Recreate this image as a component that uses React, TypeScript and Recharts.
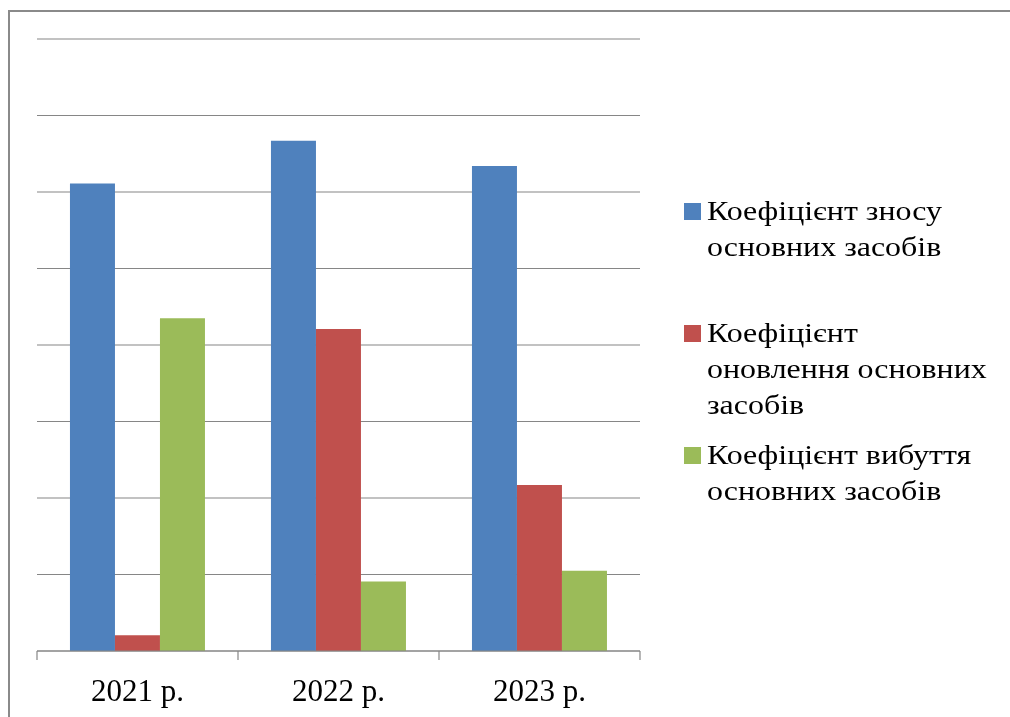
import { BarChart, Bar, XAxis, YAxis, CartesianGrid } from "recharts";

const categories = ["2021 р.", "2022 р.", "2023 р."];
const wearValues = [0.611, 0.667, 0.634];
const renewalValues = [0.0205, 0.421, 0.217];
const disposalValues = [0.435, 0.091, 0.105];
const yTicks = [0, 0.1, 0.2, 0.3, 0.4, 0.5, 0.6, 0.7, 0.8];

const series = [
  { key: "wear", name: "Коефіцієнт зносу основних засобів", color: "#4F81BD" },
  { key: "renewal", name: "Коефіцієнт оновлення основних засобів", color: "#C0504D" },
  { key: "disposal", name: "Коефіцієнт вибуття основних засобів", color: "#9BBB59" },
];

// legend wraps exactly like the original
const legendLines = [
  ["Коефіцієнт зносу", "основних засобів"],
  ["Коефіцієнт", "оновлення основних", "засобів"],
  ["Коефіцієнт вибуття", "основних засобів"],
];

const data = categories.map((c, i) => ({
  name: c,
  wear: wearValues[i],
  renewal: renewalValues[i],
  disposal: disposalValues[i],
}));

const font = '"Liberation Serif", serif';
const gray = "#868686";
const TICK_SIZE = 6;
const TICK_MARGIN = 22;

// tick marks sit on category boundaries, not on centres
function AxisTick(props: any) {
  const { x, y, payload, index } = props;
  const off = payload.offset ?? 0;
  const axisY = y - TICK_SIZE - TICK_MARGIN;
  const last = index === categories.length - 1;
  return (
    <g>
      <line x1={x - off} x2={x - off} y1={axisY} y2={axisY + 9} stroke={gray} strokeWidth={1.2} />
      {last && (
        <line x1={x + off} x2={x + off} y1={axisY} y2={axisY + 9} stroke={gray} strokeWidth={1.2} />
      )}
      <text x={x} y={y} dy="0.71em" textAnchor="middle" fill="#000" fontSize={31} style={{ fontFamily: font }}>
        {payload.value}
      </text>
    </g>
  );
}

export default function App() {
  return (
    <div
      style={{
        position: "fixed",
        left: 8,
        top: 10,
        width: 1010,
        height: 720,
        overflow: "hidden",
        borderLeft: "2px solid #8a8a8a",
        borderTop: "2px solid #8a8a8a",
        fontFamily: font,
      }}
    >
      <BarChart
        width={995}
        height={700}
        data={data}
        margin={{ top: 27, right: 365, bottom: 16, left: 27 }}
        barCategoryGap="16.4%"
        barGap={0}
      >
        <CartesianGrid vertical={false} stroke={gray} strokeWidth={1.2} />
        <XAxis
          dataKey="name"
          height={45}
          axisLine={{ stroke: gray, strokeWidth: 1.2 }}
          tickLine={false}
          tickSize={TICK_SIZE}
          tickMargin={TICK_MARGIN}
          tick={<AxisTick />}
        />
        <YAxis hide domain={[0, 0.8]} ticks={yTicks} />
        {series.map((s) => (
          <Bar
            key={s.key}
            dataKey={s.key}
            name={s.name}
            fill={s.color}
            isAnimationActive={false}
          />
        ))}
      </BarChart>
      <div style={{ position: "absolute", left: 674, top: 181 }}>
        {series.map((s, i) => (
          <div key={s.key} style={{ display: "flex", height: 122 }}>
            <span
              style={{
                width: 17,
                height: 17,
                marginTop: 10,
                marginRight: 6,
                background: s.color,
                flexShrink: 0,
              }}
            />
            <div style={{ fontSize: 28, lineHeight: "36px", color: "#000" }}>
              {legendLines[i].map((l) => (
                <div
                  key={l}
                  style={{ whiteSpace: "nowrap", transform: "scaleX(1.14)", transformOrigin: "left" }}
                >
                  {l}
                </div>
              ))}
            </div>
          </div>
        ))}
      </div>
    </div>
  );
}
